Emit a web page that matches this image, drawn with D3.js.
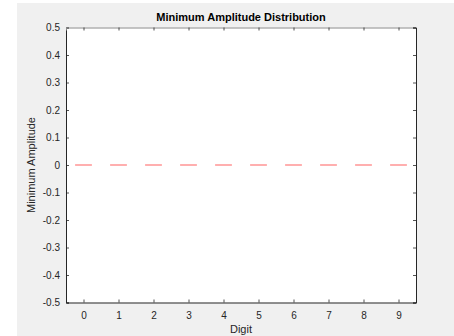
<!DOCTYPE html>
<html>
<head>
<meta charset="utf-8">
<script src="https://cdn.jsdelivr.net/npm/d3@7"></script>
<style>
  html, body { margin: 0; padding: 0; background: #ffffff; }
  svg { display: block; }
</style>
</head>
<body>
<svg id="chart" width="454" height="336"></svg>
<script>
// Digits on the x axis and the median minimum amplitude for each digit
const digits = [0, 1, 2, 3, 4, 5, 6, 7, 8, 9];
const medians = [0, 0, 0, 0, 0, 0, 0, 0, 0, 0];
const yTicks = [-0.5, -0.4, -0.3, -0.2, -0.1, 0, 0.1, 0.2, 0.3, 0.4, 0.5];

const W = 454, H = 336;
const plot = { left: 66, right: 416, top: 27.5, bottom: 302.5 };
const axisColor = "#262626";
const font = "'Liberation Sans', Arial, Helvetica, sans-serif";

const svg = d3.select("#chart");

// figure background
svg.append("rect").attr("x", 17).attr("y", 3).attr("width", W - 17).attr("height", H - 3)
  .attr("fill", "#f0f0f0");

const x = d3.scaleLinear().domain([-0.5, 9.5]).range([plot.left, plot.right]);
const y = d3.scaleLinear().domain([-0.5, 0.5]).range([plot.bottom, plot.top]);

// axes area
svg.append("rect")
  .attr("x", plot.left).attr("y", plot.top)
  .attr("width", plot.right - plot.left).attr("height", plot.bottom - plot.top)
  .attr("fill", "#ffffff");

// median markers (one per digit)
const halfW = 0.24;
svg.append("g").selectAll("line").data(digits).join("line")
  .attr("x1", (d) => x(d - halfW))
  .attr("x2", (d) => x(d + halfW))
  .attr("y1", (d, i) => y(medians[i]))
  .attr("y2", (d, i) => y(medians[i]))
  .attr("stroke", "#ff7a7a")
  .attr("stroke-width", 1.2);

// axes with inward ticks on all four sides
const tickLen = 3;
const fmt = (v) => (Math.abs(v) < 1e-9 ? "0" : v.toFixed(1));

const gB = svg.append("g").attr("transform", `translate(0,${plot.bottom})`)
  .call(d3.axisBottom(x).tickValues(digits).tickSize(-tickLen).tickPadding(9).tickFormat((d) => String(d)));
const gL = svg.append("g").attr("transform", `translate(${plot.left},0)`)
  .call(d3.axisLeft(y).tickValues(yTicks).tickSize(-tickLen).tickPadding(6).tickFormat(fmt));
const gT = svg.append("g").attr("transform", `translate(0,${plot.top})`)
  .call(d3.axisTop(x).tickValues(digits).tickSize(-tickLen).tickFormat(""));
const gR = svg.append("g").attr("transform", `translate(${plot.right},0)`)
  .call(d3.axisRight(y).tickValues(yTicks).tickSize(-tickLen).tickFormat(""));

[gB, gL, gT, gR].forEach((g) => {
  g.select(".domain").attr("stroke", axisColor).attr("stroke-width", 1);
  g.selectAll(".tick line").attr("stroke", axisColor).attr("stroke-width", 0.8);
  g.selectAll(".tick text").attr("fill", axisColor)
    .style("font-family", font).style("font-size", "10px");
});
gT.select(".domain").attr("stroke", "#8a8a8a");

// title and axis labels
svg.append("text")
  .attr("x", (plot.left + plot.right) / 2).attr("y", 21)
  .attr("text-anchor", "middle")
  .style("font-family", font).style("font-size", "11px").style("font-weight", "bold")
  .attr("fill", "#000")
  .text("Minimum Amplitude Distribution");

svg.append("text")
  .attr("x", (plot.left + plot.right) / 2).attr("y", 333)
  .attr("text-anchor", "middle")
  .style("font-family", font).style("font-size", "11px")
  .attr("fill", axisColor)
  .text("Digit");

svg.append("text")
  .attr("transform", `translate(35,${(plot.top + plot.bottom) / 2}) rotate(-90)`)
  .attr("text-anchor", "middle")
  .style("font-family", font).style("font-size", "11px")
  .attr("fill", axisColor)
  .text("Minimum Amplitude");
</script>
</body>
</html>
